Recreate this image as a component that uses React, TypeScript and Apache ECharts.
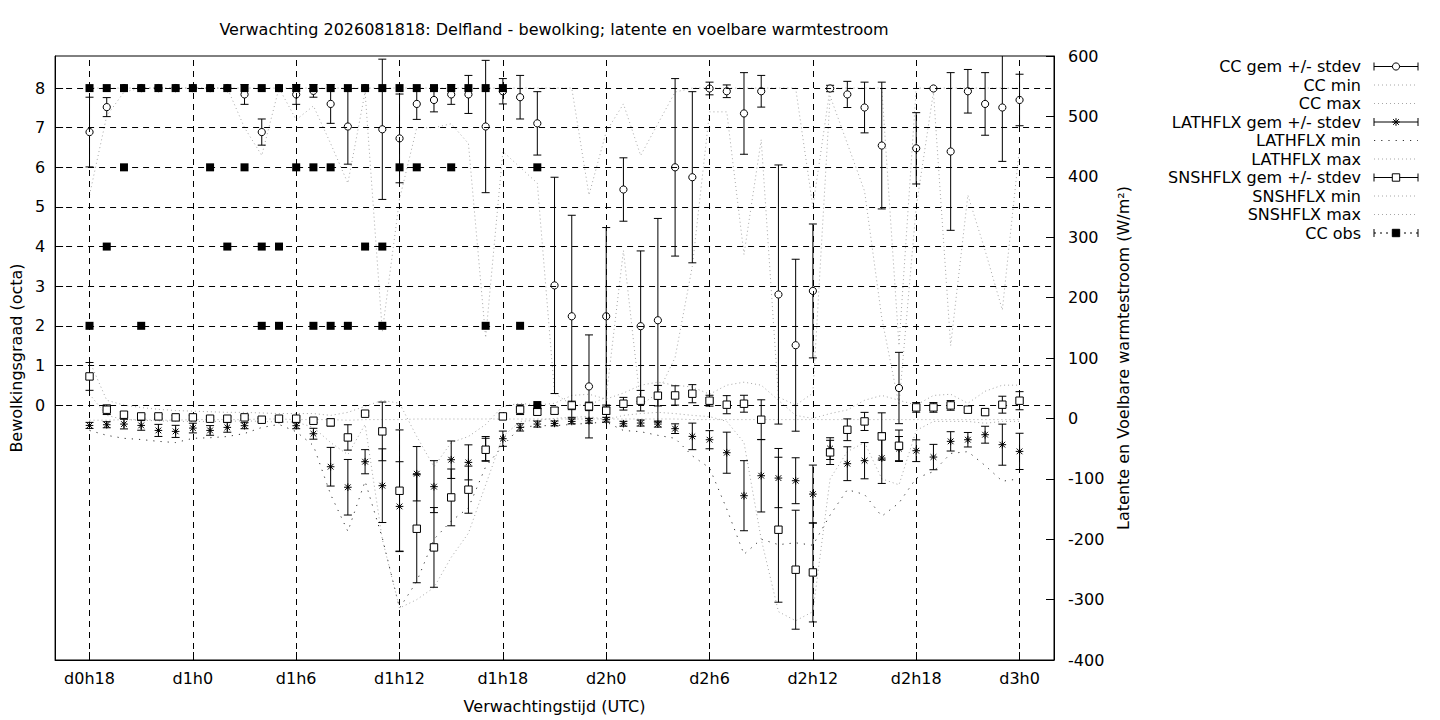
import React, { useEffect, useRef } from "react";
import * as echarts from "echarts";

const FONT = "DejaVu Sans";
const FS = 16;
const GRAY = "#a6a6a6";

const TITLE = "Verwachting 2026081818: Delfland - bewolking; latente en voelbare warmtestroom";

const hours = [18, 19, 20, 21, 22, 23, 24, 25, 26, 27, 28, 29, 30, 31, 32, 33, 34, 35, 36, 37, 38, 39, 40, 41, 42, 43, 44, 45, 46, 47, 48, 49, 50, 51, 52, 53, 54, 55, 56, 57, 58, 59, 60, 61, 62, 63, 64, 65, 66, 67, 68, 69, 70, 71, 72];
const xTicks = [18, 24, 30, 36, 42, 48, 54, 60, 66, 72];
const ccTicks = [0, 1, 2, 3, 4, 5, 6, 7, 8];

const ccMean = [6.89, 7.52, 8, 8, 8, 8, 8, 8, 8, 7.84, 6.89, 8, 7.84, 7.93, 7.6, 7.03, 8, 6.96, 6.73, 7.6, 7.7, 7.84, 7.84, 7.03, 7.92, 7.77, 7.11, 3.02, 2.24, 0.47, 2.24, 5.44, 1.99, 2.14, 6.0, 5.75, 7.99, 7.92, 7.36, 7.92, 2.79, 1.51, 2.88, 7.99, 7.84, 7.51, 6.55, 0.43, 6.48, 7.99, 6.4, 7.92, 7.6, 7.51, 7.7];
const ccSd = [0.88, 0.24, 0, 0, 0, 0, 0, 0, 0, 0.25, 0.33, 0, 0.25, 0.16, 0.49, 0.95, 0, 1.77, 1.12, 0.39, 0.3, 0.25, 0.48, 1.67, 0.32, 0.55, 0.8, 2.73, 2.55, 1.3, 2.24, 0.8, 1.9, 2.57, 2.24, 2.16, 0.16, 0.16, 1.03, 0.4, 3.27, 2.17, 1.69, 0.08, 0.33, 0.64, 1.6, 0.9, 0.9, 0, 1.99, 0.55, 0.79, 1.36, 0.65];
const ccMin = [5.3, 7.3, 7.9, 8, 8, 8, 8, 8, 8, 7.0, 6.3, 8, 7.2, 7.55, 6.6, 5.6, 7.9, 1.85, 5.2, 7.0, 7.0, 7.1, 6.6, 1.7, 6.4, 6.0, 5.6, 0.3, 0, 0, 0.2, 3.9, 0, 0.3, 1.2, 3.5, 7.4, 7.4, 3.8, 6.7, 0.2, 0, 0.3, 7.8, 6.6, 5.4, 2.2, 0, 5.0, 7.9, 1.5, 5.3, 3.9, 2.4, 6.5];
const ccMax = [8, 8, 8, 8, 8, 8, 8, 8, 8, 8, 8, 8, 8, 8, 8, 8, 8, 8, 8, 8, 8, 8, 8, 8, 8, 8, 8, 8, 8, 5.3, 6.9, 7.6, 6.3, 7.1, 7.9, 8, 8, 8, 8, 8, 8, 8, 5.0, 8, 8, 8, 8, 1.5, 8, 8, 8, 8, 8, 8, 8];

const latMean = [-11.6, -10.5, -9.4, -11.6, -19.9, -21.5, -16, -19.9, -14.9, -12.1, -3, -2, -12.1, -25.4, -80, -114, -71.7, -111.4, -145.7, -91.6, -113, -68.4, -72.8, -50, -33.6, -14.9, -9.4, -8.3, -5, -3.9, -2.2, -8.8, -7.7, -9.4, -17, -29.8, -35.3, -56.8, -128, -94.9, -98.8, -103.2, -125.3, -50, -75, -70, -65.7, -50, -53.5, -64, -38, -35.3, -27, -43.5, -54.6];
const latSd = [5, 5, 8, 8, 10, 10, 8, 8, 8, 5, 3, 3, 5, 9, 32, 46, 20, 61, 74, 45, 43, 31, 29, 20, 12.6, 6, 5, 4, 4, 4, 4, 4, 5, 5, 8, 22, 15, 34, 58, 60, 49, 38, 48, 18, 28, 30, 42, 20, 18, 21, 16, 12, 14, 34, 30];
const latMin = [-20, -28, -33, -35, -38, -40, -33, -32, -30, -25, -15, -10, -22, -45, -126, -187, -104, -198, -314, -270, -200, -170, -148, -80, -45, -15, -12, -12, -10, -8, -6, -20, -22, -28, -33, -62, -82, -150, -225, -200, -209, -206, -210, -160, -118, -126, -162, -140, -99, -88, -58, -55, -78, -104, -100];
const latMax = [-3, -3, -2, -2, -3, -3, -2, -2, -2, -2, -1, -1, -2, -2, -2, -3, -2, -2, -2, -1, -1, -1, -1, -1, -1, -1, -1, -1, -1, -1, -1, -1, -1, -1, -1, -2, -2, -2, -2, -2, -2, -2, -2, -2, -2, -2, -2, -2, -2, -2, -2, -2, -2, -2, -2];

const snsMean = [69.5, 14.4, 6.1, 3.3, 3.3, 1.7, 1.7, -0.5, -0.5, 1.7, -2.2, -0.5, -0.5, -3.9, -6.6, -31.5, 7.8, -21.5, -119.8, -182.7, -213.6, -130.8, -118, -51.9, 3.3, 14.4, 11, 12.7, 21.5, 19.9, 12.7, 24.3, 29.3, 37.6, 38, 40.9, 29.3, 22.7, 24.3, -2.2, -184.3, -250.5, -255, -56.3, -18.8, -5, -29.8, -45.3, 18.2, 18.2, 21.5, 14.4, 10.4, 22.7, 29.3];
const snsSd = [23, 8, 5, 3, 3, 3, 3, 3, 3, 3, 3, 3, 3, 3, 6, 21, 3, 48.6, 100.7, 89.4, 66, 47, 39, 19, 5, 8, 5, 5, 7, 7, 6, 10.5, 17, 17, 16, 15, 9, 15, 14, 33, 120, 98.5, 82, 20, 18, 15, 39, 26, 8, 8, 8, 5, 5, 14, 15];
const snsMin = [40, 5, -2, -3, -4, -5, -5, -5, -5, -4, -5, -6, -6, -15, -40, -60, -10, -200, -314, -300, -280, -230, -190, -110, -30, -5, -3, 0, 2, 3, -2, 5, 8, 10, 8, 5, 3, -5, -40, -200, -320, -335, -320, -100, -55, -40, -100, -110, -20, -5, -5, -5, -8, -5, -5];
const snsMax = [95, 30, 22, 18, 15, 13, 12, 11, 10, 10, 9, 8, 8, 8, 5, 10, 20, 30, 25, -30, -80, -40, -30, -10, 20, 25, 22, 25, 38, 40, 32, 42, 55, 60, 55, 52, 40, 55, 60, 55, 30, 5, 0, 8, 14, 30, 38, 30, 22, 38, 40, 25, 45, 55, 55];

const obsHours = [18, 18, 19, 19, 20, 20, 21, 21, 22, 23, 24, 25, 25, 26, 26, 27, 27, 28, 28, 28, 29, 29, 29, 30, 30, 31, 31, 31, 32, 32, 32, 33, 33, 34, 34, 35, 35, 35, 36, 36, 37, 37, 38, 39, 39, 40, 41, 41, 42, 43, 44, 44];
const obsValues = [8, 2, 8, 4, 8, 6, 8, 2, 8, 8, 8, 8, 6, 8, 4, 8, 6, 8, 4, 2, 8, 4, 2, 8, 6, 8, 6, 2, 8, 6, 2, 8, 2, 8, 4, 8, 4, 2, 8, 6, 8, 6, 8, 8, 6, 8, 8, 2, 8, 2, 6, 0];

const legendLabels = [
  "CC gem +/- stdev",
  "CC min",
  "CC max",
  "LATHFLX gem +/- stdev",
  "LATHFLX min",
  "LATHFLX max",
  "SNSHFLX gem +/- stdev",
  "SNSHFLX min",
  "SNSHFLX max",
  "CC obs",
];

function seg(x1: number, y1: number, x2: number, y2: number, stroke = "#000", dash?: number[]) {
  return {
    type: "line",
    shape: { x1, y1, x2, y2 },
    style: { stroke, lineWidth: 1, lineDash: dash, fill: null },
    silent: true,
  };
}

function markerShapes(kind: string, cx: number, cy: number): any[] {
  if (kind === "circle") {
    return [{ type: "circle", shape: { cx, cy, r: 3.6 }, style: { fill: "#fff", stroke: "#000", lineWidth: 1 } }];
  }
  if (kind === "square") {
    return [{ type: "rect", shape: { x: cx - 3.7, y: cy - 3.7, width: 7.4, height: 7.4 }, style: { fill: "#fff", stroke: "#000", lineWidth: 1 } }];
  }
  if (kind === "filled") {
    return [{ type: "rect", shape: { x: cx - 3.7, y: cy - 3.7, width: 7.4, height: 7.4 }, style: { fill: "#000", stroke: "#000", lineWidth: 1 } }];
  }
  const r = 3.8;
  return [
    seg(cx - r, cy, cx + r, cy),
    seg(cx, cy - r, cx, cy + r),
    seg(cx - r * 0.75, cy - r * 0.75, cx + r * 0.75, cy + r * 0.75),
    seg(cx - r * 0.75, cy + r * 0.75, cx + r * 0.75, cy - r * 0.75),
  ];
}

function errSeries(name: string, means: number[], sds: number[], yAxisIndex: number, marker: string, z: number) {
  return {
    type: "custom",
    name,
    xAxisIndex: 0,
    yAxisIndex,
    z,
    clip: true,
    silent: true,
    data: hours.map((h, i) => [h, means[i], sds[i]]),
    encode: { x: 0, y: 1 },
    renderItem: (_params: any, api: any) => {
      const x = api.value(0);
      const y = api.value(1);
      const s = api.value(2);
      const c = api.coord([x, y]);
      const children: any[] = [];
      if (s > 0) {
        const t = api.coord([x, y + s]);
        const b = api.coord([x, y - s]);
        children.push(seg(c[0], t[1], c[0], b[1]));
        children.push(seg(c[0] - 4, t[1], c[0] + 4, t[1]));
        children.push(seg(c[0] - 4, b[1], c[0] + 4, b[1]));
      }
      children.push(...markerShapes(marker, c[0], c[1]));
      return { type: "group", children };
    },
  };
}

function lineSeries(name: string, vals: number[], yAxisIndex: number, color: string, dash: number[], z: number, extra: any = {}) {
  return {
    type: "line",
    name,
    xAxisIndex: 0,
    yAxisIndex,
    z,
    silent: true,
    clip: true,
    showSymbol: false,
    symbol: "none",
    data: hours.map((h, i) => [h, vals[i]]),
    lineStyle: { color, width: 1, type: dash },
    ...extra,
  };
}

function buildLegend(): any[] {
  const els: any[] = [];
  const x1 = 1374;
  const x2 = 1418;
  const xm = 1396;
  const kinds = ["err:circle", "gray", "gray", "err:asterisk", "black", "gray", "err:square", "gray", "gray", "obs"];
  legendLabels.forEach((label, k) => {
    const y = 66.5 + 18.5 * k;
    els.push({
      type: "text",
      x: 1361,
      y,
      silent: true,
      style: { text: label, textAlign: "right", textVerticalAlign: "middle", fontSize: FS, fontFamily: FONT, fill: "#000" },
    });
    const kind = kinds[k];
    if (kind.startsWith("err")) {
      els.push(seg(x1, y, x2, y));
      els.push(seg(x1, y - 4, x1, y + 4));
      els.push(seg(x2, y - 4, x2, y + 4));
      els.push(...markerShapes(kind.split(":")[1], xm, y));
    } else if (kind === "gray") {
      els.push(seg(x1, y, x2, y, GRAY, [1, 3]));
    } else if (kind === "black") {
      els.push(seg(x1, y, x2, y, "#333", [1.2, 6]));
    } else {
      els.push(seg(x1, y, x2, y, "#000", [2, 4]));
      els.push(seg(x1, y - 4, x1, y + 4));
      els.push(seg(x2, y - 4, x2, y + 4));
      els.push(...markerShapes("filled", xm, y));
    }
  });
  return els;
}

const fmtHour = (v: number) => `d${Math.floor(v / 24)}h${v % 24}`;

export default function App() {
  const ref = useRef<HTMLDivElement>(null);
  useEffect(() => {
    if (!ref.current) return;
    const chart = echarts.init(ref.current, undefined, { renderer: "svg" });
    const labelStyle = { color: "#000", fontSize: FS, fontFamily: FONT };
    const option: any = {
      animation: false,
      backgroundColor: "#fff",
      textStyle: { fontFamily: FONT },
      grid: { left: 54, right: 386, top: 56, bottom: 60, show: true, borderColor: "#000", borderWidth: 1, backgroundColor: "transparent" },
      xAxis: [
        {
          type: "value",
          min: 16,
          max: 74,
          position: "bottom",
          name: "Verwachtingstijd (UTC)",
          nameLocation: "middle",
          nameGap: 38,
          nameTextStyle: labelStyle,
          axisLine: { show: true, onZero: false, lineStyle: { color: "#000", width: 1 } },
          axisTick: { show: true, inside: true, length: 8, customValues: xTicks, lineStyle: { color: "#000" } },
          axisLabel: { ...labelStyle, margin: 10, customValues: xTicks, formatter: fmtHour },
          splitLine: { show: false },
        },
      ],
      yAxis: [
        {
          type: "value",
          position: "left",
          min: -6.435,
          max: 8.81,
          name: "Bewolkingsgraad (octa)",
          nameLocation: "middle",
          nameGap: 27,
          nameTextStyle: labelStyle,
          axisLine: { show: true, onZero: false, lineStyle: { color: "#000", width: 1 } },
          axisTick: { show: true, inside: true, length: 8, customValues: ccTicks, lineStyle: { color: "#000" } },
          axisLabel: { ...labelStyle, margin: 10, customValues: ccTicks },
          splitLine: { show: false },
        },
        {
          type: "value",
          position: "right",
          min: -400,
          max: 600,
          interval: 100,
          name: "Latente en Voelbare warmtestroom (W/m²)",
          nameLocation: "middle",
          nameGap: 60,
          nameTextStyle: labelStyle,
          axisLine: { show: true, onZero: false, lineStyle: { color: "#000", width: 1 } },
          axisTick: { show: true, inside: true, length: 8, lineStyle: { color: "#000" } },
          axisLabel: { ...labelStyle, margin: 14 },
          splitLine: { show: false },
        },
      ],
      series: [
        lineSeries("CC min", ccMin, 0, GRAY, [1, 3], 2, {
          markLine: {
            silent: true,
            symbol: ["none", "none"],
            label: { show: false },
            lineStyle: { color: "#000", width: 1, type: [6, 5] },
            emphasis: { disabled: true },
            data: [...ccTicks.map((v) => ({ yAxis: v })), ...xTicks.map((v) => ({ xAxis: v }))],
          },
        }),
        lineSeries("CC max", ccMax, 0, GRAY, [1, 3], 2),
        lineSeries("LATHFLX min", latMin, 1, "#333", [1.2, 6], 2),
        lineSeries("LATHFLX max", latMax, 1, GRAY, [1, 3], 2),
        lineSeries("SNSHFLX min", snsMin, 1, GRAY, [1, 3], 2),
        lineSeries("SNSHFLX max", snsMax, 1, GRAY, [1, 3], 2),
        errSeries("CC gem +/- stdev", ccMean, ccSd, 0, "circle", 4),
        errSeries("LATHFLX gem +/- stdev", latMean, latSd, 1, "asterisk", 5),
        errSeries("SNSHFLX gem +/- stdev", snsMean, snsSd, 1, "square", 6),
        {
          type: "scatter",
          name: "CC obs",
          xAxisIndex: 0,
          yAxisIndex: 0,
          z: 10,
          silent: true,
          symbol: "rect",
          symbolSize: 8,
          itemStyle: { color: "#000", opacity: 1 },
          data: obsHours.map((h, i) => [h, obsValues[i]]),
        },
      ],
      graphic: [
        {
          type: "text",
          x: 554,
          y: 29,
          silent: true,
          style: { text: TITLE, textAlign: "center", textVerticalAlign: "middle", fontSize: FS, fontFamily: FONT, fill: "#000" },
        },
        ...buildLegend(),
      ],
    };
    chart.setOption(option);
    return () => chart.dispose();
  }, []);
  return <div ref={ref} style={{ position: "fixed", left: 0, top: 0, width: 1440, height: 720, background: "#fff" }} />;
}
